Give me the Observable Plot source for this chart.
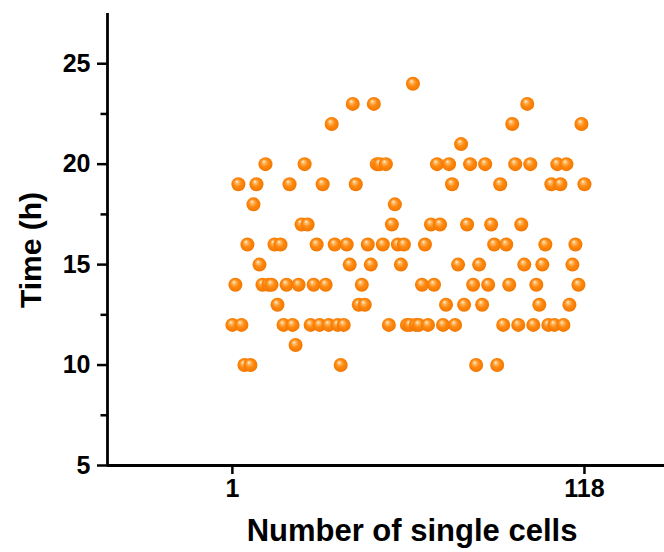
<!DOCTYPE html>
<html><head><meta charset="utf-8">
<script src="https://cdn.jsdelivr.net/npm/d3@7"></script>
<script src="https://cdn.jsdelivr.net/npm/@observablehq/plot@0.6"></script>
<style>body{margin:0;background:#fff} svg{display:block}</style>
</head><body><div id="chart"></div>
<script>
const cellNumbers = [1,2,3,4,5,6,7,8,9,10,11,12,13,14,15,16,17,18,19,20,21,22,23,24,25,26,27,28,29,30,31,32,33,34,35,36,37,38,39,40,41,42,43,44,45,46,47,48,49,50,51,52,53,54,55,56,57,58,59,60,61,62,63,64,65,66,67,68,69,70,71,72,73,74,75,76,77,78,79,80,81,82,83,84,85,86,87,88,89,90,91,92,93,94,95,96,97,98,99,100,101,102,103,104,105,106,107,108,109,110,111,112,113,114,115,116,117,118];
const timeHours = [12,14,19,12,10,16,10,18,19,15,14,20,14,14,16,13,16,12,14,19,12,11,14,17,20,17,12,14,16,12,19,14,12,22,16,12,10,12,16,15,23,19,13,14,13,16,15,23,20,20,16,20,12,17,18,16,15,16,12,12,24,12,12,14,16,12,17,14,20,17,12,13,20,19,12,15,21,13,17,20,14,10,15,13,20,14,17,16,10,19,12,16,14,22,20,12,17,15,23,20,12,14,13,15,16,12,19,12,20,19,12,20,13,15,16,14,22,19];
const xTicks = [1, 118];
const yTicks = [5, 10, 15, 20, 25];
const yMinorTicks = [7.5, 12.5, 17.5, 22.5];

const data = cellNumbers.map((c, i) => ({cell: c, time: timeHours[i]}));
const xDomain = [-40.5, 144.6];
const yDomain = [5, 27.5];
const font = "'Liberation Sans', Arial, sans-serif";

const chart = Plot.plot({
  width: 664,
  height: 552,
  marginLeft: 107,
  marginRight: 0,
  marginTop: 13,
  marginBottom: 87,
  style: {fontFamily: font, background: "#fff", color: "#000"},
  x: {domain: xDomain},
  y: {domain: yDomain},
  marks: [
    Plot.axisY({ticks: yMinorTicks, tickSize: 6.5, strokeWidth: 2.5, tickFormat: () => "", label: null}),
    Plot.axisY({ticks: yTicks, tickSize: 10, strokeWidth: 2.5, tickPadding: 7, fontSize: 25, fontWeight: "bold",
      label: "Time (h)", labelAnchor: "center", labelArrow: "none", labelOffset: 80}),
    Plot.axisX({ticks: xTicks, tickSize: 9, strokeWidth: 2.5, tickPadding: 5, fontSize: 25, fontWeight: "bold",
      label: "Number of single cells", labelAnchor: "center", labelArrow: "none", labelOffset: 62}),
    Plot.ruleX([xDomain[0]], {strokeWidth: 2.8}),
    Plot.ruleY([yDomain[0]], {strokeWidth: 2.8}),
    Plot.dot(data, {x: "cell", y: "time", r: 7, fill: "url(#ball)", stroke: "none"})
  ]
});

const ns = "http://www.w3.org/2000/svg";
const defs = document.createElementNS(ns, "defs");
defs.innerHTML = `<radialGradient id="ball" cx="0.5" cy="0.5" r="0.55" fx="0.38" fy="0.3">
  <stop offset="0" stop-color="#fffbef"/>
  <stop offset="0.18" stop-color="#ffc070"/>
  <stop offset="0.5" stop-color="#ff8a12"/>
  <stop offset="0.85" stop-color="#f57a00"/>
  <stop offset="1" stop-color="#e87000"/>
</radialGradient>`;
chart.insertBefore(defs, chart.firstChild);
document.getElementById("chart").appendChild(chart);

// place axis titles where the reference has them (bbox centres)
function placeLabel(sel, size, cx, cy) {
  const g = chart.querySelector(sel);
  if (!g) return;
  g.querySelectorAll("text").forEach(t => { t.setAttribute("font-size", size); t.setAttribute("font-weight", "bold"); });
  const b = g.getBoundingClientRect();
  const dx = cx - (b.left + b.width / 2), dy = cy - (b.top + b.height / 2);
  const old = g.getAttribute("transform") || "";
  g.setAttribute("transform", `translate(${dx},${dy}) ${old}`);
}
placeLabel("[aria-label='y-axis label']", 30, 30, 250);
placeLabel("[aria-label='x-axis label']", 31, 412, 530);
</script>
</body></html>
